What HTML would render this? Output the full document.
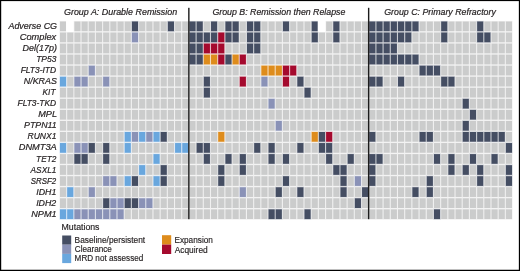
<!DOCTYPE html>
<html><head><meta charset="utf-8"><style>
html,body{margin:0;padding:0;background:#fff;width:520px;height:271px;overflow:hidden}
svg{display:block;will-change:transform}
.g{fill:#cbcccc;stroke:#cbcccc;stroke-opacity:0.28;stroke-width:1.2px}.d{fill:#454e63;stroke:#454e63;stroke-opacity:0.28;stroke-width:1.2px}.c{fill:#8a92b7;stroke:#8a92b7;stroke-opacity:0.28;stroke-width:1.2px}.m{fill:#69a7de;stroke:#69a7de;stroke-opacity:0.28;stroke-width:1.2px}.o{fill:#de8c1c;stroke:#de8c1c;stroke-opacity:0.28;stroke-width:1.2px}.r{fill:#a50a2e;stroke:#a50a2e;stroke-opacity:0.28;stroke-width:1.2px}
.lab{font-family:"Liberation Sans",sans-serif;font-style:italic;font-size:8.8px;fill:#231f20;stroke:#231f20;stroke-width:0.2px}
.hdr{font-family:"Liberation Sans",sans-serif;font-style:italic;font-size:8.8px;fill:#231f20;stroke:#231f20;stroke-width:0.2px}
.leg{font-family:"Liberation Sans",sans-serif;font-size:8.3px;fill:#231f20;stroke:#231f20;stroke-width:0.16px}
</style></head><body>
<svg width="520" height="271" viewBox="0 0 520 271">
<rect x="0" y="0" width="520" height="271" fill="#fff"/>
<rect x="60.0" y="21.5" width="452.00" height="197.55" fill="#ffffff"/>
<rect class="g" x="60.00" y="21.50" width="6.1" height="9.7"/><rect x="66.10" y="20.15" width="8.28" height="12.40" fill="#fff"/><rect class="g" x="74.38" y="21.50" width="6.1" height="9.7"/><rect class="g" x="81.58" y="21.50" width="6.1" height="9.7"/><rect class="g" x="88.77" y="21.50" width="6.1" height="9.7"/><rect class="g" x="95.96" y="21.50" width="6.1" height="9.7"/><rect class="g" x="103.15" y="21.50" width="6.1" height="9.7"/><rect class="g" x="110.34" y="21.50" width="6.1" height="9.7"/><rect class="g" x="117.54" y="21.50" width="6.1" height="9.7"/><rect class="g" x="124.73" y="21.50" width="6.1" height="9.7"/><rect class="d" x="131.92" y="21.50" width="6.1" height="9.7"/><rect class="g" x="139.11" y="21.50" width="6.1" height="9.7"/><rect class="g" x="146.30" y="21.50" width="6.1" height="9.7"/><rect class="g" x="153.50" y="21.50" width="6.1" height="9.7"/><rect class="g" x="160.69" y="21.50" width="6.1" height="9.7"/><rect class="d" x="167.88" y="21.50" width="6.1" height="9.7"/><rect class="g" x="175.07" y="21.50" width="6.1" height="9.7"/><rect class="g" x="182.26" y="21.50" width="6.1" height="9.7"/><rect class="d" x="189.46" y="21.50" width="6.1" height="9.7"/><rect class="d" x="196.65" y="21.50" width="6.1" height="9.7"/><rect class="g" x="203.84" y="21.50" width="6.1" height="9.7"/><rect class="d" x="211.03" y="21.50" width="6.1" height="9.7"/><rect class="g" x="218.22" y="21.50" width="6.1" height="9.7"/><rect class="d" x="225.42" y="21.50" width="6.1" height="9.7"/><rect class="d" x="232.61" y="21.50" width="6.1" height="9.7"/><rect class="g" x="239.80" y="21.50" width="6.1" height="9.7"/><rect class="d" x="246.99" y="21.50" width="6.1" height="9.7"/><rect class="d" x="254.18" y="21.50" width="6.1" height="9.7"/><rect class="g" x="261.38" y="21.50" width="6.1" height="9.7"/><rect class="g" x="268.57" y="21.50" width="6.1" height="9.7"/><rect class="g" x="275.76" y="21.50" width="6.1" height="9.7"/><rect class="d" x="282.95" y="21.50" width="6.1" height="9.7"/><rect class="g" x="290.14" y="21.50" width="6.1" height="9.7"/><rect class="g" x="297.34" y="21.50" width="6.1" height="9.7"/><rect class="g" x="304.53" y="21.50" width="6.1" height="9.7"/><rect class="d" x="311.72" y="21.50" width="6.1" height="9.7"/><rect x="317.82" y="20.15" width="8.28" height="12.40" fill="#fff"/><rect class="g" x="326.10" y="21.50" width="6.1" height="9.7"/><rect class="d" x="333.30" y="21.50" width="6.1" height="9.7"/><rect class="g" x="340.49" y="21.50" width="6.1" height="9.7"/><rect class="g" x="347.68" y="21.50" width="6.1" height="9.7"/><rect class="g" x="354.87" y="21.50" width="6.1" height="9.7"/><rect class="g" x="362.06" y="21.50" width="6.1" height="9.7"/><rect class="d" x="369.26" y="21.50" width="6.1" height="9.7"/><rect class="d" x="376.45" y="21.50" width="6.1" height="9.7"/><rect class="d" x="383.64" y="21.50" width="6.1" height="9.7"/><rect class="d" x="390.83" y="21.50" width="6.1" height="9.7"/><rect class="d" x="398.02" y="21.50" width="6.1" height="9.7"/><rect class="d" x="405.22" y="21.50" width="6.1" height="9.7"/><rect class="d" x="412.41" y="21.50" width="6.1" height="9.7"/><rect class="g" x="419.60" y="21.50" width="6.1" height="9.7"/><rect class="g" x="426.79" y="21.50" width="6.1" height="9.7"/><rect class="g" x="433.98" y="21.50" width="6.1" height="9.7"/><rect class="d" x="441.18" y="21.50" width="6.1" height="9.7"/><rect class="g" x="448.37" y="21.50" width="6.1" height="9.7"/><rect class="g" x="455.56" y="21.50" width="6.1" height="9.7"/><rect class="g" x="462.75" y="21.50" width="6.1" height="9.7"/><rect class="g" x="469.94" y="21.50" width="6.1" height="9.7"/><rect class="d" x="477.14" y="21.50" width="6.1" height="9.7"/><rect class="g" x="484.33" y="21.50" width="6.1" height="9.7"/><rect class="g" x="491.52" y="21.50" width="6.1" height="9.7"/><rect class="g" x="498.71" y="21.50" width="6.1" height="9.7"/><rect class="g" x="505.90" y="21.50" width="6.1" height="9.7"/><rect class="g" x="60.00" y="32.55" width="6.1" height="9.7"/><rect class="g" x="67.19" y="32.55" width="6.1" height="9.7"/><rect class="g" x="74.38" y="32.55" width="6.1" height="9.7"/><rect class="g" x="81.58" y="32.55" width="6.1" height="9.7"/><rect class="g" x="88.77" y="32.55" width="6.1" height="9.7"/><rect class="g" x="95.96" y="32.55" width="6.1" height="9.7"/><rect class="g" x="103.15" y="32.55" width="6.1" height="9.7"/><rect class="g" x="110.34" y="32.55" width="6.1" height="9.7"/><rect class="g" x="117.54" y="32.55" width="6.1" height="9.7"/><rect class="g" x="124.73" y="32.55" width="6.1" height="9.7"/><rect class="c" x="131.92" y="32.55" width="6.1" height="9.7"/><rect class="g" x="139.11" y="32.55" width="6.1" height="9.7"/><rect class="g" x="146.30" y="32.55" width="6.1" height="9.7"/><rect class="g" x="153.50" y="32.55" width="6.1" height="9.7"/><rect class="g" x="160.69" y="32.55" width="6.1" height="9.7"/><rect class="g" x="167.88" y="32.55" width="6.1" height="9.7"/><rect class="g" x="175.07" y="32.55" width="6.1" height="9.7"/><rect class="g" x="182.26" y="32.55" width="6.1" height="9.7"/><rect class="d" x="189.46" y="32.55" width="6.1" height="9.7"/><rect class="d" x="196.65" y="32.55" width="6.1" height="9.7"/><rect class="d" x="203.84" y="32.55" width="6.1" height="9.7"/><rect class="d" x="211.03" y="32.55" width="6.1" height="9.7"/><rect class="r" x="218.22" y="32.55" width="6.1" height="9.7"/><rect class="d" x="225.42" y="32.55" width="6.1" height="9.7"/><rect class="d" x="232.61" y="32.55" width="6.1" height="9.7"/><rect class="g" x="239.80" y="32.55" width="6.1" height="9.7"/><rect class="d" x="246.99" y="32.55" width="6.1" height="9.7"/><rect class="d" x="254.18" y="32.55" width="6.1" height="9.7"/><rect class="g" x="261.38" y="32.55" width="6.1" height="9.7"/><rect class="g" x="268.57" y="32.55" width="6.1" height="9.7"/><rect class="g" x="275.76" y="32.55" width="6.1" height="9.7"/><rect class="g" x="282.95" y="32.55" width="6.1" height="9.7"/><rect class="g" x="290.14" y="32.55" width="6.1" height="9.7"/><rect class="g" x="297.34" y="32.55" width="6.1" height="9.7"/><rect class="g" x="304.53" y="32.55" width="6.1" height="9.7"/><rect class="d" x="311.72" y="32.55" width="6.1" height="9.7"/><rect class="g" x="318.91" y="32.55" width="6.1" height="9.7"/><rect class="g" x="326.10" y="32.55" width="6.1" height="9.7"/><rect class="d" x="333.30" y="32.55" width="6.1" height="9.7"/><rect class="g" x="340.49" y="32.55" width="6.1" height="9.7"/><rect class="g" x="347.68" y="32.55" width="6.1" height="9.7"/><rect class="g" x="354.87" y="32.55" width="6.1" height="9.7"/><rect class="g" x="362.06" y="32.55" width="6.1" height="9.7"/><rect class="d" x="369.26" y="32.55" width="6.1" height="9.7"/><rect class="d" x="376.45" y="32.55" width="6.1" height="9.7"/><rect class="d" x="383.64" y="32.55" width="6.1" height="9.7"/><rect class="d" x="390.83" y="32.55" width="6.1" height="9.7"/><rect class="d" x="398.02" y="32.55" width="6.1" height="9.7"/><rect class="d" x="405.22" y="32.55" width="6.1" height="9.7"/><rect class="g" x="412.41" y="32.55" width="6.1" height="9.7"/><rect class="g" x="419.60" y="32.55" width="6.1" height="9.7"/><rect class="g" x="426.79" y="32.55" width="6.1" height="9.7"/><rect class="g" x="433.98" y="32.55" width="6.1" height="9.7"/><rect class="d" x="441.18" y="32.55" width="6.1" height="9.7"/><rect class="g" x="448.37" y="32.55" width="6.1" height="9.7"/><rect class="g" x="455.56" y="32.55" width="6.1" height="9.7"/><rect class="g" x="462.75" y="32.55" width="6.1" height="9.7"/><rect class="g" x="469.94" y="32.55" width="6.1" height="9.7"/><rect class="d" x="477.14" y="32.55" width="6.1" height="9.7"/><rect class="d" x="484.33" y="32.55" width="6.1" height="9.7"/><rect class="g" x="491.52" y="32.55" width="6.1" height="9.7"/><rect class="g" x="498.71" y="32.55" width="6.1" height="9.7"/><rect class="g" x="505.90" y="32.55" width="6.1" height="9.7"/><rect class="g" x="60.00" y="43.60" width="6.1" height="9.7"/><rect class="g" x="67.19" y="43.60" width="6.1" height="9.7"/><rect class="g" x="74.38" y="43.60" width="6.1" height="9.7"/><rect class="g" x="81.58" y="43.60" width="6.1" height="9.7"/><rect class="g" x="88.77" y="43.60" width="6.1" height="9.7"/><rect class="g" x="95.96" y="43.60" width="6.1" height="9.7"/><rect class="g" x="103.15" y="43.60" width="6.1" height="9.7"/><rect class="g" x="110.34" y="43.60" width="6.1" height="9.7"/><rect class="g" x="117.54" y="43.60" width="6.1" height="9.7"/><rect class="g" x="124.73" y="43.60" width="6.1" height="9.7"/><rect class="g" x="131.92" y="43.60" width="6.1" height="9.7"/><rect class="g" x="139.11" y="43.60" width="6.1" height="9.7"/><rect class="g" x="146.30" y="43.60" width="6.1" height="9.7"/><rect class="g" x="153.50" y="43.60" width="6.1" height="9.7"/><rect class="g" x="160.69" y="43.60" width="6.1" height="9.7"/><rect class="g" x="167.88" y="43.60" width="6.1" height="9.7"/><rect class="g" x="175.07" y="43.60" width="6.1" height="9.7"/><rect class="g" x="182.26" y="43.60" width="6.1" height="9.7"/><rect class="d" x="189.46" y="43.60" width="6.1" height="9.7"/><rect class="d" x="196.65" y="43.60" width="6.1" height="9.7"/><rect class="r" x="203.84" y="43.60" width="6.1" height="9.7"/><rect class="r" x="211.03" y="43.60" width="6.1" height="9.7"/><rect class="r" x="218.22" y="43.60" width="6.1" height="9.7"/><rect class="g" x="225.42" y="43.60" width="6.1" height="9.7"/><rect class="g" x="232.61" y="43.60" width="6.1" height="9.7"/><rect class="g" x="239.80" y="43.60" width="6.1" height="9.7"/><rect class="d" x="246.99" y="43.60" width="6.1" height="9.7"/><rect class="d" x="254.18" y="43.60" width="6.1" height="9.7"/><rect class="g" x="261.38" y="43.60" width="6.1" height="9.7"/><rect class="g" x="268.57" y="43.60" width="6.1" height="9.7"/><rect class="g" x="275.76" y="43.60" width="6.1" height="9.7"/><rect class="g" x="282.95" y="43.60" width="6.1" height="9.7"/><rect class="g" x="290.14" y="43.60" width="6.1" height="9.7"/><rect class="g" x="297.34" y="43.60" width="6.1" height="9.7"/><rect class="g" x="304.53" y="43.60" width="6.1" height="9.7"/><rect class="g" x="311.72" y="43.60" width="6.1" height="9.7"/><rect class="g" x="318.91" y="43.60" width="6.1" height="9.7"/><rect class="g" x="326.10" y="43.60" width="6.1" height="9.7"/><rect class="g" x="333.30" y="43.60" width="6.1" height="9.7"/><rect class="g" x="340.49" y="43.60" width="6.1" height="9.7"/><rect class="g" x="347.68" y="43.60" width="6.1" height="9.7"/><rect class="g" x="354.87" y="43.60" width="6.1" height="9.7"/><rect class="g" x="362.06" y="43.60" width="6.1" height="9.7"/><rect class="d" x="369.26" y="43.60" width="6.1" height="9.7"/><rect class="d" x="376.45" y="43.60" width="6.1" height="9.7"/><rect class="d" x="383.64" y="43.60" width="6.1" height="9.7"/><rect class="d" x="390.83" y="43.60" width="6.1" height="9.7"/><rect class="g" x="398.02" y="43.60" width="6.1" height="9.7"/><rect class="g" x="405.22" y="43.60" width="6.1" height="9.7"/><rect class="g" x="412.41" y="43.60" width="6.1" height="9.7"/><rect class="g" x="419.60" y="43.60" width="6.1" height="9.7"/><rect class="g" x="426.79" y="43.60" width="6.1" height="9.7"/><rect class="g" x="433.98" y="43.60" width="6.1" height="9.7"/><rect class="g" x="441.18" y="43.60" width="6.1" height="9.7"/><rect class="g" x="448.37" y="43.60" width="6.1" height="9.7"/><rect class="g" x="455.56" y="43.60" width="6.1" height="9.7"/><rect class="g" x="462.75" y="43.60" width="6.1" height="9.7"/><rect class="g" x="469.94" y="43.60" width="6.1" height="9.7"/><rect class="g" x="477.14" y="43.60" width="6.1" height="9.7"/><rect class="g" x="484.33" y="43.60" width="6.1" height="9.7"/><rect class="g" x="491.52" y="43.60" width="6.1" height="9.7"/><rect class="g" x="498.71" y="43.60" width="6.1" height="9.7"/><rect class="g" x="505.90" y="43.60" width="6.1" height="9.7"/><rect class="g" x="60.00" y="54.65" width="6.1" height="9.7"/><rect class="g" x="67.19" y="54.65" width="6.1" height="9.7"/><rect class="g" x="74.38" y="54.65" width="6.1" height="9.7"/><rect class="g" x="81.58" y="54.65" width="6.1" height="9.7"/><rect class="g" x="88.77" y="54.65" width="6.1" height="9.7"/><rect class="g" x="95.96" y="54.65" width="6.1" height="9.7"/><rect class="g" x="103.15" y="54.65" width="6.1" height="9.7"/><rect class="g" x="110.34" y="54.65" width="6.1" height="9.7"/><rect class="g" x="117.54" y="54.65" width="6.1" height="9.7"/><rect class="g" x="124.73" y="54.65" width="6.1" height="9.7"/><rect class="g" x="131.92" y="54.65" width="6.1" height="9.7"/><rect class="g" x="139.11" y="54.65" width="6.1" height="9.7"/><rect class="g" x="146.30" y="54.65" width="6.1" height="9.7"/><rect class="g" x="153.50" y="54.65" width="6.1" height="9.7"/><rect class="g" x="160.69" y="54.65" width="6.1" height="9.7"/><rect class="g" x="167.88" y="54.65" width="6.1" height="9.7"/><rect class="g" x="175.07" y="54.65" width="6.1" height="9.7"/><rect class="g" x="182.26" y="54.65" width="6.1" height="9.7"/><rect class="d" x="189.46" y="54.65" width="6.1" height="9.7"/><rect class="d" x="196.65" y="54.65" width="6.1" height="9.7"/><rect class="o" x="203.84" y="54.65" width="6.1" height="9.7"/><rect class="o" x="211.03" y="54.65" width="6.1" height="9.7"/><rect class="r" x="218.22" y="54.65" width="6.1" height="9.7"/><rect class="d" x="225.42" y="54.65" width="6.1" height="9.7"/><rect class="o" x="232.61" y="54.65" width="6.1" height="9.7"/><rect class="r" x="239.80" y="54.65" width="6.1" height="9.7"/><rect class="g" x="246.99" y="54.65" width="6.1" height="9.7"/><rect class="g" x="254.18" y="54.65" width="6.1" height="9.7"/><rect class="g" x="261.38" y="54.65" width="6.1" height="9.7"/><rect class="g" x="268.57" y="54.65" width="6.1" height="9.7"/><rect class="g" x="275.76" y="54.65" width="6.1" height="9.7"/><rect class="g" x="282.95" y="54.65" width="6.1" height="9.7"/><rect class="g" x="290.14" y="54.65" width="6.1" height="9.7"/><rect class="g" x="297.34" y="54.65" width="6.1" height="9.7"/><rect class="g" x="304.53" y="54.65" width="6.1" height="9.7"/><rect class="g" x="311.72" y="54.65" width="6.1" height="9.7"/><rect class="g" x="318.91" y="54.65" width="6.1" height="9.7"/><rect class="g" x="326.10" y="54.65" width="6.1" height="9.7"/><rect class="g" x="333.30" y="54.65" width="6.1" height="9.7"/><rect class="g" x="340.49" y="54.65" width="6.1" height="9.7"/><rect class="g" x="347.68" y="54.65" width="6.1" height="9.7"/><rect class="g" x="354.87" y="54.65" width="6.1" height="9.7"/><rect class="g" x="362.06" y="54.65" width="6.1" height="9.7"/><rect class="d" x="369.26" y="54.65" width="6.1" height="9.7"/><rect class="d" x="376.45" y="54.65" width="6.1" height="9.7"/><rect class="d" x="383.64" y="54.65" width="6.1" height="9.7"/><rect class="d" x="390.83" y="54.65" width="6.1" height="9.7"/><rect class="d" x="398.02" y="54.65" width="6.1" height="9.7"/><rect class="d" x="405.22" y="54.65" width="6.1" height="9.7"/><rect class="d" x="412.41" y="54.65" width="6.1" height="9.7"/><rect class="g" x="419.60" y="54.65" width="6.1" height="9.7"/><rect class="g" x="426.79" y="54.65" width="6.1" height="9.7"/><rect class="g" x="433.98" y="54.65" width="6.1" height="9.7"/><rect class="g" x="441.18" y="54.65" width="6.1" height="9.7"/><rect class="g" x="448.37" y="54.65" width="6.1" height="9.7"/><rect class="g" x="455.56" y="54.65" width="6.1" height="9.7"/><rect class="g" x="462.75" y="54.65" width="6.1" height="9.7"/><rect class="g" x="469.94" y="54.65" width="6.1" height="9.7"/><rect class="g" x="477.14" y="54.65" width="6.1" height="9.7"/><rect class="g" x="484.33" y="54.65" width="6.1" height="9.7"/><rect class="g" x="491.52" y="54.65" width="6.1" height="9.7"/><rect class="g" x="498.71" y="54.65" width="6.1" height="9.7"/><rect class="g" x="505.90" y="54.65" width="6.1" height="9.7"/><rect class="g" x="60.00" y="65.70" width="6.1" height="9.7"/><rect class="g" x="67.19" y="65.70" width="6.1" height="9.7"/><rect class="g" x="74.38" y="65.70" width="6.1" height="9.7"/><rect class="g" x="81.58" y="65.70" width="6.1" height="9.7"/><rect class="c" x="88.77" y="65.70" width="6.1" height="9.7"/><rect class="g" x="95.96" y="65.70" width="6.1" height="9.7"/><rect class="g" x="103.15" y="65.70" width="6.1" height="9.7"/><rect class="g" x="110.34" y="65.70" width="6.1" height="9.7"/><rect class="g" x="117.54" y="65.70" width="6.1" height="9.7"/><rect class="g" x="124.73" y="65.70" width="6.1" height="9.7"/><rect class="g" x="131.92" y="65.70" width="6.1" height="9.7"/><rect class="g" x="139.11" y="65.70" width="6.1" height="9.7"/><rect class="g" x="146.30" y="65.70" width="6.1" height="9.7"/><rect class="g" x="153.50" y="65.70" width="6.1" height="9.7"/><rect class="g" x="160.69" y="65.70" width="6.1" height="9.7"/><rect class="g" x="167.88" y="65.70" width="6.1" height="9.7"/><rect class="g" x="175.07" y="65.70" width="6.1" height="9.7"/><rect class="g" x="182.26" y="65.70" width="6.1" height="9.7"/><rect class="g" x="189.46" y="65.70" width="6.1" height="9.7"/><rect class="g" x="196.65" y="65.70" width="6.1" height="9.7"/><rect class="g" x="203.84" y="65.70" width="6.1" height="9.7"/><rect class="g" x="211.03" y="65.70" width="6.1" height="9.7"/><rect class="g" x="218.22" y="65.70" width="6.1" height="9.7"/><rect class="g" x="225.42" y="65.70" width="6.1" height="9.7"/><rect class="g" x="232.61" y="65.70" width="6.1" height="9.7"/><rect class="g" x="239.80" y="65.70" width="6.1" height="9.7"/><rect class="g" x="246.99" y="65.70" width="6.1" height="9.7"/><rect class="g" x="254.18" y="65.70" width="6.1" height="9.7"/><rect class="o" x="261.38" y="65.70" width="6.1" height="9.7"/><rect class="o" x="268.57" y="65.70" width="6.1" height="9.7"/><rect class="o" x="275.76" y="65.70" width="6.1" height="9.7"/><rect class="r" x="282.95" y="65.70" width="6.1" height="9.7"/><rect class="r" x="290.14" y="65.70" width="6.1" height="9.7"/><rect class="g" x="297.34" y="65.70" width="6.1" height="9.7"/><rect class="g" x="304.53" y="65.70" width="6.1" height="9.7"/><rect class="g" x="311.72" y="65.70" width="6.1" height="9.7"/><rect class="g" x="318.91" y="65.70" width="6.1" height="9.7"/><rect class="g" x="326.10" y="65.70" width="6.1" height="9.7"/><rect class="g" x="333.30" y="65.70" width="6.1" height="9.7"/><rect class="g" x="340.49" y="65.70" width="6.1" height="9.7"/><rect class="g" x="347.68" y="65.70" width="6.1" height="9.7"/><rect class="g" x="354.87" y="65.70" width="6.1" height="9.7"/><rect class="g" x="362.06" y="65.70" width="6.1" height="9.7"/><rect class="g" x="369.26" y="65.70" width="6.1" height="9.7"/><rect class="g" x="376.45" y="65.70" width="6.1" height="9.7"/><rect class="g" x="383.64" y="65.70" width="6.1" height="9.7"/><rect class="g" x="390.83" y="65.70" width="6.1" height="9.7"/><rect class="g" x="398.02" y="65.70" width="6.1" height="9.7"/><rect class="g" x="405.22" y="65.70" width="6.1" height="9.7"/><rect class="g" x="412.41" y="65.70" width="6.1" height="9.7"/><rect class="d" x="419.60" y="65.70" width="6.1" height="9.7"/><rect class="d" x="426.79" y="65.70" width="6.1" height="9.7"/><rect class="d" x="433.98" y="65.70" width="6.1" height="9.7"/><rect class="g" x="441.18" y="65.70" width="6.1" height="9.7"/><rect class="g" x="448.37" y="65.70" width="6.1" height="9.7"/><rect class="g" x="455.56" y="65.70" width="6.1" height="9.7"/><rect class="g" x="462.75" y="65.70" width="6.1" height="9.7"/><rect class="g" x="469.94" y="65.70" width="6.1" height="9.7"/><rect class="g" x="477.14" y="65.70" width="6.1" height="9.7"/><rect class="g" x="484.33" y="65.70" width="6.1" height="9.7"/><rect class="g" x="491.52" y="65.70" width="6.1" height="9.7"/><rect class="g" x="498.71" y="65.70" width="6.1" height="9.7"/><rect class="g" x="505.90" y="65.70" width="6.1" height="9.7"/><rect class="m" x="60.00" y="76.75" width="6.1" height="9.7"/><rect class="g" x="67.19" y="76.75" width="6.1" height="9.7"/><rect class="c" x="74.38" y="76.75" width="6.1" height="9.7"/><rect class="c" x="81.58" y="76.75" width="6.1" height="9.7"/><rect class="g" x="88.77" y="76.75" width="6.1" height="9.7"/><rect class="g" x="95.96" y="76.75" width="6.1" height="9.7"/><rect class="c" x="103.15" y="76.75" width="6.1" height="9.7"/><rect class="g" x="110.34" y="76.75" width="6.1" height="9.7"/><rect class="g" x="117.54" y="76.75" width="6.1" height="9.7"/><rect class="g" x="124.73" y="76.75" width="6.1" height="9.7"/><rect class="g" x="131.92" y="76.75" width="6.1" height="9.7"/><rect class="g" x="139.11" y="76.75" width="6.1" height="9.7"/><rect class="g" x="146.30" y="76.75" width="6.1" height="9.7"/><rect class="g" x="153.50" y="76.75" width="6.1" height="9.7"/><rect class="g" x="160.69" y="76.75" width="6.1" height="9.7"/><rect class="g" x="167.88" y="76.75" width="6.1" height="9.7"/><rect class="g" x="175.07" y="76.75" width="6.1" height="9.7"/><rect class="g" x="182.26" y="76.75" width="6.1" height="9.7"/><rect class="g" x="189.46" y="76.75" width="6.1" height="9.7"/><rect class="g" x="196.65" y="76.75" width="6.1" height="9.7"/><rect class="d" x="203.84" y="76.75" width="6.1" height="9.7"/><rect class="g" x="211.03" y="76.75" width="6.1" height="9.7"/><rect class="g" x="218.22" y="76.75" width="6.1" height="9.7"/><rect class="g" x="225.42" y="76.75" width="6.1" height="9.7"/><rect class="g" x="232.61" y="76.75" width="6.1" height="9.7"/><rect class="r" x="239.80" y="76.75" width="6.1" height="9.7"/><rect class="g" x="246.99" y="76.75" width="6.1" height="9.7"/><rect class="g" x="254.18" y="76.75" width="6.1" height="9.7"/><rect class="c" x="261.38" y="76.75" width="6.1" height="9.7"/><rect class="g" x="268.57" y="76.75" width="6.1" height="9.7"/><rect class="g" x="275.76" y="76.75" width="6.1" height="9.7"/><rect class="r" x="282.95" y="76.75" width="6.1" height="9.7"/><rect class="g" x="290.14" y="76.75" width="6.1" height="9.7"/><rect class="d" x="297.34" y="76.75" width="6.1" height="9.7"/><rect class="g" x="304.53" y="76.75" width="6.1" height="9.7"/><rect class="g" x="311.72" y="76.75" width="6.1" height="9.7"/><rect class="g" x="318.91" y="76.75" width="6.1" height="9.7"/><rect class="g" x="326.10" y="76.75" width="6.1" height="9.7"/><rect class="g" x="333.30" y="76.75" width="6.1" height="9.7"/><rect class="g" x="340.49" y="76.75" width="6.1" height="9.7"/><rect class="g" x="347.68" y="76.75" width="6.1" height="9.7"/><rect class="g" x="354.87" y="76.75" width="6.1" height="9.7"/><rect class="g" x="362.06" y="76.75" width="6.1" height="9.7"/><rect class="d" x="369.26" y="76.75" width="6.1" height="9.7"/><rect class="d" x="376.45" y="76.75" width="6.1" height="9.7"/><rect class="g" x="383.64" y="76.75" width="6.1" height="9.7"/><rect class="g" x="390.83" y="76.75" width="6.1" height="9.7"/><rect class="d" x="398.02" y="76.75" width="6.1" height="9.7"/><rect class="g" x="405.22" y="76.75" width="6.1" height="9.7"/><rect class="g" x="412.41" y="76.75" width="6.1" height="9.7"/><rect class="g" x="419.60" y="76.75" width="6.1" height="9.7"/><rect class="g" x="426.79" y="76.75" width="6.1" height="9.7"/><rect class="g" x="433.98" y="76.75" width="6.1" height="9.7"/><rect class="d" x="441.18" y="76.75" width="6.1" height="9.7"/><rect class="d" x="448.37" y="76.75" width="6.1" height="9.7"/><rect class="g" x="455.56" y="76.75" width="6.1" height="9.7"/><rect class="g" x="462.75" y="76.75" width="6.1" height="9.7"/><rect class="g" x="469.94" y="76.75" width="6.1" height="9.7"/><rect class="g" x="477.14" y="76.75" width="6.1" height="9.7"/><rect class="g" x="484.33" y="76.75" width="6.1" height="9.7"/><rect class="g" x="491.52" y="76.75" width="6.1" height="9.7"/><rect class="g" x="498.71" y="76.75" width="6.1" height="9.7"/><rect class="g" x="505.90" y="76.75" width="6.1" height="9.7"/><rect class="g" x="60.00" y="87.80" width="6.1" height="9.7"/><rect class="g" x="67.19" y="87.80" width="6.1" height="9.7"/><rect class="g" x="74.38" y="87.80" width="6.1" height="9.7"/><rect class="g" x="81.58" y="87.80" width="6.1" height="9.7"/><rect class="g" x="88.77" y="87.80" width="6.1" height="9.7"/><rect class="g" x="95.96" y="87.80" width="6.1" height="9.7"/><rect class="g" x="103.15" y="87.80" width="6.1" height="9.7"/><rect class="g" x="110.34" y="87.80" width="6.1" height="9.7"/><rect class="g" x="117.54" y="87.80" width="6.1" height="9.7"/><rect class="g" x="124.73" y="87.80" width="6.1" height="9.7"/><rect class="g" x="131.92" y="87.80" width="6.1" height="9.7"/><rect class="g" x="139.11" y="87.80" width="6.1" height="9.7"/><rect class="g" x="146.30" y="87.80" width="6.1" height="9.7"/><rect class="g" x="153.50" y="87.80" width="6.1" height="9.7"/><rect class="g" x="160.69" y="87.80" width="6.1" height="9.7"/><rect class="g" x="167.88" y="87.80" width="6.1" height="9.7"/><rect class="g" x="175.07" y="87.80" width="6.1" height="9.7"/><rect class="g" x="182.26" y="87.80" width="6.1" height="9.7"/><rect class="g" x="189.46" y="87.80" width="6.1" height="9.7"/><rect class="g" x="196.65" y="87.80" width="6.1" height="9.7"/><rect class="d" x="203.84" y="87.80" width="6.1" height="9.7"/><rect class="g" x="211.03" y="87.80" width="6.1" height="9.7"/><rect class="g" x="218.22" y="87.80" width="6.1" height="9.7"/><rect class="g" x="225.42" y="87.80" width="6.1" height="9.7"/><rect class="g" x="232.61" y="87.80" width="6.1" height="9.7"/><rect class="g" x="239.80" y="87.80" width="6.1" height="9.7"/><rect class="g" x="246.99" y="87.80" width="6.1" height="9.7"/><rect class="g" x="254.18" y="87.80" width="6.1" height="9.7"/><rect class="g" x="261.38" y="87.80" width="6.1" height="9.7"/><rect class="g" x="268.57" y="87.80" width="6.1" height="9.7"/><rect class="g" x="275.76" y="87.80" width="6.1" height="9.7"/><rect class="g" x="282.95" y="87.80" width="6.1" height="9.7"/><rect class="g" x="290.14" y="87.80" width="6.1" height="9.7"/><rect class="g" x="297.34" y="87.80" width="6.1" height="9.7"/><rect class="d" x="304.53" y="87.80" width="6.1" height="9.7"/><rect class="g" x="311.72" y="87.80" width="6.1" height="9.7"/><rect class="g" x="318.91" y="87.80" width="6.1" height="9.7"/><rect class="g" x="326.10" y="87.80" width="6.1" height="9.7"/><rect class="g" x="333.30" y="87.80" width="6.1" height="9.7"/><rect class="g" x="340.49" y="87.80" width="6.1" height="9.7"/><rect class="g" x="347.68" y="87.80" width="6.1" height="9.7"/><rect class="g" x="354.87" y="87.80" width="6.1" height="9.7"/><rect class="g" x="362.06" y="87.80" width="6.1" height="9.7"/><rect class="g" x="369.26" y="87.80" width="6.1" height="9.7"/><rect class="g" x="376.45" y="87.80" width="6.1" height="9.7"/><rect class="g" x="383.64" y="87.80" width="6.1" height="9.7"/><rect class="g" x="390.83" y="87.80" width="6.1" height="9.7"/><rect class="g" x="398.02" y="87.80" width="6.1" height="9.7"/><rect class="g" x="405.22" y="87.80" width="6.1" height="9.7"/><rect class="g" x="412.41" y="87.80" width="6.1" height="9.7"/><rect class="g" x="419.60" y="87.80" width="6.1" height="9.7"/><rect class="g" x="426.79" y="87.80" width="6.1" height="9.7"/><rect class="g" x="433.98" y="87.80" width="6.1" height="9.7"/><rect class="g" x="441.18" y="87.80" width="6.1" height="9.7"/><rect class="g" x="448.37" y="87.80" width="6.1" height="9.7"/><rect class="g" x="455.56" y="87.80" width="6.1" height="9.7"/><rect class="g" x="462.75" y="87.80" width="6.1" height="9.7"/><rect class="g" x="469.94" y="87.80" width="6.1" height="9.7"/><rect class="g" x="477.14" y="87.80" width="6.1" height="9.7"/><rect class="g" x="484.33" y="87.80" width="6.1" height="9.7"/><rect class="g" x="491.52" y="87.80" width="6.1" height="9.7"/><rect class="g" x="498.71" y="87.80" width="6.1" height="9.7"/><rect class="g" x="505.90" y="87.80" width="6.1" height="9.7"/><rect class="g" x="60.00" y="98.85" width="6.1" height="9.7"/><rect class="g" x="67.19" y="98.85" width="6.1" height="9.7"/><rect class="g" x="74.38" y="98.85" width="6.1" height="9.7"/><rect class="g" x="81.58" y="98.85" width="6.1" height="9.7"/><rect class="g" x="88.77" y="98.85" width="6.1" height="9.7"/><rect class="g" x="95.96" y="98.85" width="6.1" height="9.7"/><rect class="g" x="103.15" y="98.85" width="6.1" height="9.7"/><rect class="g" x="110.34" y="98.85" width="6.1" height="9.7"/><rect class="g" x="117.54" y="98.85" width="6.1" height="9.7"/><rect class="g" x="124.73" y="98.85" width="6.1" height="9.7"/><rect class="g" x="131.92" y="98.85" width="6.1" height="9.7"/><rect class="g" x="139.11" y="98.85" width="6.1" height="9.7"/><rect class="g" x="146.30" y="98.85" width="6.1" height="9.7"/><rect class="g" x="153.50" y="98.85" width="6.1" height="9.7"/><rect class="g" x="160.69" y="98.85" width="6.1" height="9.7"/><rect class="g" x="167.88" y="98.85" width="6.1" height="9.7"/><rect class="g" x="175.07" y="98.85" width="6.1" height="9.7"/><rect class="g" x="182.26" y="98.85" width="6.1" height="9.7"/><rect class="g" x="189.46" y="98.85" width="6.1" height="9.7"/><rect class="g" x="196.65" y="98.85" width="6.1" height="9.7"/><rect class="g" x="203.84" y="98.85" width="6.1" height="9.7"/><rect class="g" x="211.03" y="98.85" width="6.1" height="9.7"/><rect class="g" x="218.22" y="98.85" width="6.1" height="9.7"/><rect class="g" x="225.42" y="98.85" width="6.1" height="9.7"/><rect class="g" x="232.61" y="98.85" width="6.1" height="9.7"/><rect class="g" x="239.80" y="98.85" width="6.1" height="9.7"/><rect class="g" x="246.99" y="98.85" width="6.1" height="9.7"/><rect class="g" x="254.18" y="98.85" width="6.1" height="9.7"/><rect class="g" x="261.38" y="98.85" width="6.1" height="9.7"/><rect class="c" x="268.57" y="98.85" width="6.1" height="9.7"/><rect class="g" x="275.76" y="98.85" width="6.1" height="9.7"/><rect class="g" x="282.95" y="98.85" width="6.1" height="9.7"/><rect class="g" x="290.14" y="98.85" width="6.1" height="9.7"/><rect class="g" x="297.34" y="98.85" width="6.1" height="9.7"/><rect class="g" x="304.53" y="98.85" width="6.1" height="9.7"/><rect class="g" x="311.72" y="98.85" width="6.1" height="9.7"/><rect class="g" x="318.91" y="98.85" width="6.1" height="9.7"/><rect class="g" x="326.10" y="98.85" width="6.1" height="9.7"/><rect class="g" x="333.30" y="98.85" width="6.1" height="9.7"/><rect class="g" x="340.49" y="98.85" width="6.1" height="9.7"/><rect class="g" x="347.68" y="98.85" width="6.1" height="9.7"/><rect class="g" x="354.87" y="98.85" width="6.1" height="9.7"/><rect class="g" x="362.06" y="98.85" width="6.1" height="9.7"/><rect class="g" x="369.26" y="98.85" width="6.1" height="9.7"/><rect class="g" x="376.45" y="98.85" width="6.1" height="9.7"/><rect class="g" x="383.64" y="98.85" width="6.1" height="9.7"/><rect class="g" x="390.83" y="98.85" width="6.1" height="9.7"/><rect class="g" x="398.02" y="98.85" width="6.1" height="9.7"/><rect class="g" x="405.22" y="98.85" width="6.1" height="9.7"/><rect class="g" x="412.41" y="98.85" width="6.1" height="9.7"/><rect class="g" x="419.60" y="98.85" width="6.1" height="9.7"/><rect class="g" x="426.79" y="98.85" width="6.1" height="9.7"/><rect class="g" x="433.98" y="98.85" width="6.1" height="9.7"/><rect class="g" x="441.18" y="98.85" width="6.1" height="9.7"/><rect class="g" x="448.37" y="98.85" width="6.1" height="9.7"/><rect class="g" x="455.56" y="98.85" width="6.1" height="9.7"/><rect class="d" x="462.75" y="98.85" width="6.1" height="9.7"/><rect class="g" x="469.94" y="98.85" width="6.1" height="9.7"/><rect class="g" x="477.14" y="98.85" width="6.1" height="9.7"/><rect class="g" x="484.33" y="98.85" width="6.1" height="9.7"/><rect class="g" x="491.52" y="98.85" width="6.1" height="9.7"/><rect class="g" x="498.71" y="98.85" width="6.1" height="9.7"/><rect class="g" x="505.90" y="98.85" width="6.1" height="9.7"/><rect class="g" x="60.00" y="109.90" width="6.1" height="9.7"/><rect class="g" x="67.19" y="109.90" width="6.1" height="9.7"/><rect class="g" x="74.38" y="109.90" width="6.1" height="9.7"/><rect class="g" x="81.58" y="109.90" width="6.1" height="9.7"/><rect class="g" x="88.77" y="109.90" width="6.1" height="9.7"/><rect class="g" x="95.96" y="109.90" width="6.1" height="9.7"/><rect class="g" x="103.15" y="109.90" width="6.1" height="9.7"/><rect class="g" x="110.34" y="109.90" width="6.1" height="9.7"/><rect class="g" x="117.54" y="109.90" width="6.1" height="9.7"/><rect class="g" x="124.73" y="109.90" width="6.1" height="9.7"/><rect class="g" x="131.92" y="109.90" width="6.1" height="9.7"/><rect class="g" x="139.11" y="109.90" width="6.1" height="9.7"/><rect class="g" x="146.30" y="109.90" width="6.1" height="9.7"/><rect class="g" x="153.50" y="109.90" width="6.1" height="9.7"/><rect class="g" x="160.69" y="109.90" width="6.1" height="9.7"/><rect class="g" x="167.88" y="109.90" width="6.1" height="9.7"/><rect class="g" x="175.07" y="109.90" width="6.1" height="9.7"/><rect class="g" x="182.26" y="109.90" width="6.1" height="9.7"/><rect class="g" x="189.46" y="109.90" width="6.1" height="9.7"/><rect class="g" x="196.65" y="109.90" width="6.1" height="9.7"/><rect class="g" x="203.84" y="109.90" width="6.1" height="9.7"/><rect class="g" x="211.03" y="109.90" width="6.1" height="9.7"/><rect class="g" x="218.22" y="109.90" width="6.1" height="9.7"/><rect class="g" x="225.42" y="109.90" width="6.1" height="9.7"/><rect class="g" x="232.61" y="109.90" width="6.1" height="9.7"/><rect class="g" x="239.80" y="109.90" width="6.1" height="9.7"/><rect class="g" x="246.99" y="109.90" width="6.1" height="9.7"/><rect class="g" x="254.18" y="109.90" width="6.1" height="9.7"/><rect class="g" x="261.38" y="109.90" width="6.1" height="9.7"/><rect class="g" x="268.57" y="109.90" width="6.1" height="9.7"/><rect class="g" x="275.76" y="109.90" width="6.1" height="9.7"/><rect class="g" x="282.95" y="109.90" width="6.1" height="9.7"/><rect class="g" x="290.14" y="109.90" width="6.1" height="9.7"/><rect class="g" x="297.34" y="109.90" width="6.1" height="9.7"/><rect class="g" x="304.53" y="109.90" width="6.1" height="9.7"/><rect class="g" x="311.72" y="109.90" width="6.1" height="9.7"/><rect class="g" x="318.91" y="109.90" width="6.1" height="9.7"/><rect class="g" x="326.10" y="109.90" width="6.1" height="9.7"/><rect class="g" x="333.30" y="109.90" width="6.1" height="9.7"/><rect class="g" x="340.49" y="109.90" width="6.1" height="9.7"/><rect class="g" x="347.68" y="109.90" width="6.1" height="9.7"/><rect class="g" x="354.87" y="109.90" width="6.1" height="9.7"/><rect class="g" x="362.06" y="109.90" width="6.1" height="9.7"/><rect class="g" x="369.26" y="109.90" width="6.1" height="9.7"/><rect class="g" x="376.45" y="109.90" width="6.1" height="9.7"/><rect class="g" x="383.64" y="109.90" width="6.1" height="9.7"/><rect class="g" x="390.83" y="109.90" width="6.1" height="9.7"/><rect class="g" x="398.02" y="109.90" width="6.1" height="9.7"/><rect class="g" x="405.22" y="109.90" width="6.1" height="9.7"/><rect class="g" x="412.41" y="109.90" width="6.1" height="9.7"/><rect class="g" x="419.60" y="109.90" width="6.1" height="9.7"/><rect class="g" x="426.79" y="109.90" width="6.1" height="9.7"/><rect class="g" x="433.98" y="109.90" width="6.1" height="9.7"/><rect class="g" x="441.18" y="109.90" width="6.1" height="9.7"/><rect class="g" x="448.37" y="109.90" width="6.1" height="9.7"/><rect class="g" x="455.56" y="109.90" width="6.1" height="9.7"/><rect class="g" x="462.75" y="109.90" width="6.1" height="9.7"/><rect class="d" x="469.94" y="109.90" width="6.1" height="9.7"/><rect class="g" x="477.14" y="109.90" width="6.1" height="9.7"/><rect class="g" x="484.33" y="109.90" width="6.1" height="9.7"/><rect class="g" x="491.52" y="109.90" width="6.1" height="9.7"/><rect class="g" x="498.71" y="109.90" width="6.1" height="9.7"/><rect class="g" x="505.90" y="109.90" width="6.1" height="9.7"/><rect class="g" x="60.00" y="120.95" width="6.1" height="9.7"/><rect class="g" x="67.19" y="120.95" width="6.1" height="9.7"/><rect class="g" x="74.38" y="120.95" width="6.1" height="9.7"/><rect class="g" x="81.58" y="120.95" width="6.1" height="9.7"/><rect class="g" x="88.77" y="120.95" width="6.1" height="9.7"/><rect class="g" x="95.96" y="120.95" width="6.1" height="9.7"/><rect class="g" x="103.15" y="120.95" width="6.1" height="9.7"/><rect class="g" x="110.34" y="120.95" width="6.1" height="9.7"/><rect class="g" x="117.54" y="120.95" width="6.1" height="9.7"/><rect class="g" x="124.73" y="120.95" width="6.1" height="9.7"/><rect class="g" x="131.92" y="120.95" width="6.1" height="9.7"/><rect class="g" x="139.11" y="120.95" width="6.1" height="9.7"/><rect class="g" x="146.30" y="120.95" width="6.1" height="9.7"/><rect class="g" x="153.50" y="120.95" width="6.1" height="9.7"/><rect class="g" x="160.69" y="120.95" width="6.1" height="9.7"/><rect class="g" x="167.88" y="120.95" width="6.1" height="9.7"/><rect class="g" x="175.07" y="120.95" width="6.1" height="9.7"/><rect class="g" x="182.26" y="120.95" width="6.1" height="9.7"/><rect class="g" x="189.46" y="120.95" width="6.1" height="9.7"/><rect class="g" x="196.65" y="120.95" width="6.1" height="9.7"/><rect class="g" x="203.84" y="120.95" width="6.1" height="9.7"/><rect class="g" x="211.03" y="120.95" width="6.1" height="9.7"/><rect class="g" x="218.22" y="120.95" width="6.1" height="9.7"/><rect class="g" x="225.42" y="120.95" width="6.1" height="9.7"/><rect class="g" x="232.61" y="120.95" width="6.1" height="9.7"/><rect class="g" x="239.80" y="120.95" width="6.1" height="9.7"/><rect class="g" x="246.99" y="120.95" width="6.1" height="9.7"/><rect class="g" x="254.18" y="120.95" width="6.1" height="9.7"/><rect class="g" x="261.38" y="120.95" width="6.1" height="9.7"/><rect class="g" x="268.57" y="120.95" width="6.1" height="9.7"/><rect class="c" x="275.76" y="120.95" width="6.1" height="9.7"/><rect class="g" x="282.95" y="120.95" width="6.1" height="9.7"/><rect class="g" x="290.14" y="120.95" width="6.1" height="9.7"/><rect class="g" x="297.34" y="120.95" width="6.1" height="9.7"/><rect class="g" x="304.53" y="120.95" width="6.1" height="9.7"/><rect class="g" x="311.72" y="120.95" width="6.1" height="9.7"/><rect class="g" x="318.91" y="120.95" width="6.1" height="9.7"/><rect class="g" x="326.10" y="120.95" width="6.1" height="9.7"/><rect class="g" x="333.30" y="120.95" width="6.1" height="9.7"/><rect class="g" x="340.49" y="120.95" width="6.1" height="9.7"/><rect class="g" x="347.68" y="120.95" width="6.1" height="9.7"/><rect class="g" x="354.87" y="120.95" width="6.1" height="9.7"/><rect class="g" x="362.06" y="120.95" width="6.1" height="9.7"/><rect class="g" x="369.26" y="120.95" width="6.1" height="9.7"/><rect class="g" x="376.45" y="120.95" width="6.1" height="9.7"/><rect class="g" x="383.64" y="120.95" width="6.1" height="9.7"/><rect class="g" x="390.83" y="120.95" width="6.1" height="9.7"/><rect class="g" x="398.02" y="120.95" width="6.1" height="9.7"/><rect class="g" x="405.22" y="120.95" width="6.1" height="9.7"/><rect class="g" x="412.41" y="120.95" width="6.1" height="9.7"/><rect class="g" x="419.60" y="120.95" width="6.1" height="9.7"/><rect class="g" x="426.79" y="120.95" width="6.1" height="9.7"/><rect class="g" x="433.98" y="120.95" width="6.1" height="9.7"/><rect class="g" x="441.18" y="120.95" width="6.1" height="9.7"/><rect class="g" x="448.37" y="120.95" width="6.1" height="9.7"/><rect class="g" x="455.56" y="120.95" width="6.1" height="9.7"/><rect class="d" x="462.75" y="120.95" width="6.1" height="9.7"/><rect class="g" x="469.94" y="120.95" width="6.1" height="9.7"/><rect class="g" x="477.14" y="120.95" width="6.1" height="9.7"/><rect class="g" x="484.33" y="120.95" width="6.1" height="9.7"/><rect class="g" x="491.52" y="120.95" width="6.1" height="9.7"/><rect class="g" x="498.71" y="120.95" width="6.1" height="9.7"/><rect class="g" x="505.90" y="120.95" width="6.1" height="9.7"/><rect class="g" x="60.00" y="132.00" width="6.1" height="9.7"/><rect class="g" x="67.19" y="132.00" width="6.1" height="9.7"/><rect class="g" x="74.38" y="132.00" width="6.1" height="9.7"/><rect class="g" x="81.58" y="132.00" width="6.1" height="9.7"/><rect class="g" x="88.77" y="132.00" width="6.1" height="9.7"/><rect class="g" x="95.96" y="132.00" width="6.1" height="9.7"/><rect class="g" x="103.15" y="132.00" width="6.1" height="9.7"/><rect class="g" x="110.34" y="132.00" width="6.1" height="9.7"/><rect class="g" x="117.54" y="132.00" width="6.1" height="9.7"/><rect class="m" x="124.73" y="132.00" width="6.1" height="9.7"/><rect class="c" x="131.92" y="132.00" width="6.1" height="9.7"/><rect class="m" x="139.11" y="132.00" width="6.1" height="9.7"/><rect class="c" x="146.30" y="132.00" width="6.1" height="9.7"/><rect class="m" x="153.50" y="132.00" width="6.1" height="9.7"/><rect class="d" x="160.69" y="132.00" width="6.1" height="9.7"/><rect class="g" x="167.88" y="132.00" width="6.1" height="9.7"/><rect class="g" x="175.07" y="132.00" width="6.1" height="9.7"/><rect class="g" x="182.26" y="132.00" width="6.1" height="9.7"/><rect class="g" x="189.46" y="132.00" width="6.1" height="9.7"/><rect class="g" x="196.65" y="132.00" width="6.1" height="9.7"/><rect class="g" x="203.84" y="132.00" width="6.1" height="9.7"/><rect class="g" x="211.03" y="132.00" width="6.1" height="9.7"/><rect class="o" x="218.22" y="132.00" width="6.1" height="9.7"/><rect class="g" x="225.42" y="132.00" width="6.1" height="9.7"/><rect class="g" x="232.61" y="132.00" width="6.1" height="9.7"/><rect class="g" x="239.80" y="132.00" width="6.1" height="9.7"/><rect class="g" x="246.99" y="132.00" width="6.1" height="9.7"/><rect class="g" x="254.18" y="132.00" width="6.1" height="9.7"/><rect class="g" x="261.38" y="132.00" width="6.1" height="9.7"/><rect class="g" x="268.57" y="132.00" width="6.1" height="9.7"/><rect class="g" x="275.76" y="132.00" width="6.1" height="9.7"/><rect class="g" x="282.95" y="132.00" width="6.1" height="9.7"/><rect class="g" x="290.14" y="132.00" width="6.1" height="9.7"/><rect class="g" x="297.34" y="132.00" width="6.1" height="9.7"/><rect class="g" x="304.53" y="132.00" width="6.1" height="9.7"/><rect class="o" x="311.72" y="132.00" width="6.1" height="9.7"/><rect class="d" x="318.91" y="132.00" width="6.1" height="9.7"/><rect class="r" x="326.10" y="132.00" width="6.1" height="9.7"/><rect class="g" x="333.30" y="132.00" width="6.1" height="9.7"/><rect class="g" x="340.49" y="132.00" width="6.1" height="9.7"/><rect class="g" x="347.68" y="132.00" width="6.1" height="9.7"/><rect class="g" x="354.87" y="132.00" width="6.1" height="9.7"/><rect class="g" x="362.06" y="132.00" width="6.1" height="9.7"/><rect class="d" x="369.26" y="132.00" width="6.1" height="9.7"/><rect class="g" x="376.45" y="132.00" width="6.1" height="9.7"/><rect class="g" x="383.64" y="132.00" width="6.1" height="9.7"/><rect class="g" x="390.83" y="132.00" width="6.1" height="9.7"/><rect class="g" x="398.02" y="132.00" width="6.1" height="9.7"/><rect class="g" x="405.22" y="132.00" width="6.1" height="9.7"/><rect class="g" x="412.41" y="132.00" width="6.1" height="9.7"/><rect class="d" x="419.60" y="132.00" width="6.1" height="9.7"/><rect class="d" x="426.79" y="132.00" width="6.1" height="9.7"/><rect class="g" x="433.98" y="132.00" width="6.1" height="9.7"/><rect class="g" x="441.18" y="132.00" width="6.1" height="9.7"/><rect class="g" x="448.37" y="132.00" width="6.1" height="9.7"/><rect class="g" x="455.56" y="132.00" width="6.1" height="9.7"/><rect class="d" x="462.75" y="132.00" width="6.1" height="9.7"/><rect class="d" x="469.94" y="132.00" width="6.1" height="9.7"/><rect class="d" x="477.14" y="132.00" width="6.1" height="9.7"/><rect class="d" x="484.33" y="132.00" width="6.1" height="9.7"/><rect class="d" x="491.52" y="132.00" width="6.1" height="9.7"/><rect class="d" x="498.71" y="132.00" width="6.1" height="9.7"/><rect class="g" x="505.90" y="132.00" width="6.1" height="9.7"/><rect class="m" x="60.00" y="143.05" width="6.1" height="9.7"/><rect class="g" x="67.19" y="143.05" width="6.1" height="9.7"/><rect class="c" x="74.38" y="143.05" width="6.1" height="9.7"/><rect class="c" x="81.58" y="143.05" width="6.1" height="9.7"/><rect class="d" x="88.77" y="143.05" width="6.1" height="9.7"/><rect class="g" x="95.96" y="143.05" width="6.1" height="9.7"/><rect class="d" x="103.15" y="143.05" width="6.1" height="9.7"/><rect class="g" x="110.34" y="143.05" width="6.1" height="9.7"/><rect class="g" x="117.54" y="143.05" width="6.1" height="9.7"/><rect class="m" x="124.73" y="143.05" width="6.1" height="9.7"/><rect class="g" x="131.92" y="143.05" width="6.1" height="9.7"/><rect class="g" x="139.11" y="143.05" width="6.1" height="9.7"/><rect class="g" x="146.30" y="143.05" width="6.1" height="9.7"/><rect class="g" x="153.50" y="143.05" width="6.1" height="9.7"/><rect class="g" x="160.69" y="143.05" width="6.1" height="9.7"/><rect class="g" x="167.88" y="143.05" width="6.1" height="9.7"/><rect class="m" x="175.07" y="143.05" width="6.1" height="9.7"/><rect class="m" x="182.26" y="143.05" width="6.1" height="9.7"/><rect class="g" x="189.46" y="143.05" width="6.1" height="9.7"/><rect class="d" x="196.65" y="143.05" width="6.1" height="9.7"/><rect class="d" x="203.84" y="143.05" width="6.1" height="9.7"/><rect class="g" x="211.03" y="143.05" width="6.1" height="9.7"/><rect class="g" x="218.22" y="143.05" width="6.1" height="9.7"/><rect class="g" x="225.42" y="143.05" width="6.1" height="9.7"/><rect class="g" x="232.61" y="143.05" width="6.1" height="9.7"/><rect class="g" x="239.80" y="143.05" width="6.1" height="9.7"/><rect class="g" x="246.99" y="143.05" width="6.1" height="9.7"/><rect class="d" x="254.18" y="143.05" width="6.1" height="9.7"/><rect class="g" x="261.38" y="143.05" width="6.1" height="9.7"/><rect class="d" x="268.57" y="143.05" width="6.1" height="9.7"/><rect class="g" x="275.76" y="143.05" width="6.1" height="9.7"/><rect class="g" x="282.95" y="143.05" width="6.1" height="9.7"/><rect class="g" x="290.14" y="143.05" width="6.1" height="9.7"/><rect class="d" x="297.34" y="143.05" width="6.1" height="9.7"/><rect class="g" x="304.53" y="143.05" width="6.1" height="9.7"/><rect class="g" x="311.72" y="143.05" width="6.1" height="9.7"/><rect class="d" x="318.91" y="143.05" width="6.1" height="9.7"/><rect class="d" x="326.10" y="143.05" width="6.1" height="9.7"/><rect class="g" x="333.30" y="143.05" width="6.1" height="9.7"/><rect class="g" x="340.49" y="143.05" width="6.1" height="9.7"/><rect class="g" x="347.68" y="143.05" width="6.1" height="9.7"/><rect class="g" x="354.87" y="143.05" width="6.1" height="9.7"/><rect class="g" x="362.06" y="143.05" width="6.1" height="9.7"/><rect class="g" x="369.26" y="143.05" width="6.1" height="9.7"/><rect class="g" x="376.45" y="143.05" width="6.1" height="9.7"/><rect class="g" x="383.64" y="143.05" width="6.1" height="9.7"/><rect class="g" x="390.83" y="143.05" width="6.1" height="9.7"/><rect class="g" x="398.02" y="143.05" width="6.1" height="9.7"/><rect class="g" x="405.22" y="143.05" width="6.1" height="9.7"/><rect class="g" x="412.41" y="143.05" width="6.1" height="9.7"/><rect class="g" x="419.60" y="143.05" width="6.1" height="9.7"/><rect class="g" x="426.79" y="143.05" width="6.1" height="9.7"/><rect class="g" x="433.98" y="143.05" width="6.1" height="9.7"/><rect class="g" x="441.18" y="143.05" width="6.1" height="9.7"/><rect class="g" x="448.37" y="143.05" width="6.1" height="9.7"/><rect class="g" x="455.56" y="143.05" width="6.1" height="9.7"/><rect class="g" x="462.75" y="143.05" width="6.1" height="9.7"/><rect class="g" x="469.94" y="143.05" width="6.1" height="9.7"/><rect class="g" x="477.14" y="143.05" width="6.1" height="9.7"/><rect class="g" x="484.33" y="143.05" width="6.1" height="9.7"/><rect class="g" x="491.52" y="143.05" width="6.1" height="9.7"/><rect class="g" x="498.71" y="143.05" width="6.1" height="9.7"/><rect class="d" x="505.90" y="143.05" width="6.1" height="9.7"/><rect class="g" x="60.00" y="154.10" width="6.1" height="9.7"/><rect class="g" x="67.19" y="154.10" width="6.1" height="9.7"/><rect class="d" x="74.38" y="154.10" width="6.1" height="9.7"/><rect class="d" x="81.58" y="154.10" width="6.1" height="9.7"/><rect class="g" x="88.77" y="154.10" width="6.1" height="9.7"/><rect class="g" x="95.96" y="154.10" width="6.1" height="9.7"/><rect class="d" x="103.15" y="154.10" width="6.1" height="9.7"/><rect class="g" x="110.34" y="154.10" width="6.1" height="9.7"/><rect class="g" x="117.54" y="154.10" width="6.1" height="9.7"/><rect class="g" x="124.73" y="154.10" width="6.1" height="9.7"/><rect class="g" x="131.92" y="154.10" width="6.1" height="9.7"/><rect class="g" x="139.11" y="154.10" width="6.1" height="9.7"/><rect class="g" x="146.30" y="154.10" width="6.1" height="9.7"/><rect class="m" x="153.50" y="154.10" width="6.1" height="9.7"/><rect class="g" x="160.69" y="154.10" width="6.1" height="9.7"/><rect class="g" x="167.88" y="154.10" width="6.1" height="9.7"/><rect class="g" x="175.07" y="154.10" width="6.1" height="9.7"/><rect class="g" x="182.26" y="154.10" width="6.1" height="9.7"/><rect class="g" x="189.46" y="154.10" width="6.1" height="9.7"/><rect class="g" x="196.65" y="154.10" width="6.1" height="9.7"/><rect class="d" x="203.84" y="154.10" width="6.1" height="9.7"/><rect class="g" x="211.03" y="154.10" width="6.1" height="9.7"/><rect class="g" x="218.22" y="154.10" width="6.1" height="9.7"/><rect class="d" x="225.42" y="154.10" width="6.1" height="9.7"/><rect class="g" x="232.61" y="154.10" width="6.1" height="9.7"/><rect class="d" x="239.80" y="154.10" width="6.1" height="9.7"/><rect class="g" x="246.99" y="154.10" width="6.1" height="9.7"/><rect class="g" x="254.18" y="154.10" width="6.1" height="9.7"/><rect class="g" x="261.38" y="154.10" width="6.1" height="9.7"/><rect class="d" x="268.57" y="154.10" width="6.1" height="9.7"/><rect class="g" x="275.76" y="154.10" width="6.1" height="9.7"/><rect class="d" x="282.95" y="154.10" width="6.1" height="9.7"/><rect class="g" x="290.14" y="154.10" width="6.1" height="9.7"/><rect class="g" x="297.34" y="154.10" width="6.1" height="9.7"/><rect class="g" x="304.53" y="154.10" width="6.1" height="9.7"/><rect class="g" x="311.72" y="154.10" width="6.1" height="9.7"/><rect class="g" x="318.91" y="154.10" width="6.1" height="9.7"/><rect class="d" x="326.10" y="154.10" width="6.1" height="9.7"/><rect class="g" x="333.30" y="154.10" width="6.1" height="9.7"/><rect class="g" x="340.49" y="154.10" width="6.1" height="9.7"/><rect class="d" x="347.68" y="154.10" width="6.1" height="9.7"/><rect class="g" x="354.87" y="154.10" width="6.1" height="9.7"/><rect class="g" x="362.06" y="154.10" width="6.1" height="9.7"/><rect class="d" x="369.26" y="154.10" width="6.1" height="9.7"/><rect class="d" x="376.45" y="154.10" width="6.1" height="9.7"/><rect class="g" x="383.64" y="154.10" width="6.1" height="9.7"/><rect class="g" x="390.83" y="154.10" width="6.1" height="9.7"/><rect class="g" x="398.02" y="154.10" width="6.1" height="9.7"/><rect class="g" x="405.22" y="154.10" width="6.1" height="9.7"/><rect class="g" x="412.41" y="154.10" width="6.1" height="9.7"/><rect class="g" x="419.60" y="154.10" width="6.1" height="9.7"/><rect class="g" x="426.79" y="154.10" width="6.1" height="9.7"/><rect class="d" x="433.98" y="154.10" width="6.1" height="9.7"/><rect class="g" x="441.18" y="154.10" width="6.1" height="9.7"/><rect class="d" x="448.37" y="154.10" width="6.1" height="9.7"/><rect class="g" x="455.56" y="154.10" width="6.1" height="9.7"/><rect class="g" x="462.75" y="154.10" width="6.1" height="9.7"/><rect class="d" x="469.94" y="154.10" width="6.1" height="9.7"/><rect class="g" x="477.14" y="154.10" width="6.1" height="9.7"/><rect class="g" x="484.33" y="154.10" width="6.1" height="9.7"/><rect class="d" x="491.52" y="154.10" width="6.1" height="9.7"/><rect class="g" x="498.71" y="154.10" width="6.1" height="9.7"/><rect class="g" x="505.90" y="154.10" width="6.1" height="9.7"/><rect class="g" x="60.00" y="165.15" width="6.1" height="9.7"/><rect class="g" x="67.19" y="165.15" width="6.1" height="9.7"/><rect class="g" x="74.38" y="165.15" width="6.1" height="9.7"/><rect class="g" x="81.58" y="165.15" width="6.1" height="9.7"/><rect class="g" x="88.77" y="165.15" width="6.1" height="9.7"/><rect class="g" x="95.96" y="165.15" width="6.1" height="9.7"/><rect class="g" x="103.15" y="165.15" width="6.1" height="9.7"/><rect class="g" x="110.34" y="165.15" width="6.1" height="9.7"/><rect class="g" x="117.54" y="165.15" width="6.1" height="9.7"/><rect class="g" x="124.73" y="165.15" width="6.1" height="9.7"/><rect class="g" x="131.92" y="165.15" width="6.1" height="9.7"/><rect class="m" x="139.11" y="165.15" width="6.1" height="9.7"/><rect class="g" x="146.30" y="165.15" width="6.1" height="9.7"/><rect class="g" x="153.50" y="165.15" width="6.1" height="9.7"/><rect class="d" x="160.69" y="165.15" width="6.1" height="9.7"/><rect class="g" x="167.88" y="165.15" width="6.1" height="9.7"/><rect class="g" x="175.07" y="165.15" width="6.1" height="9.7"/><rect class="g" x="182.26" y="165.15" width="6.1" height="9.7"/><rect class="g" x="189.46" y="165.15" width="6.1" height="9.7"/><rect class="g" x="196.65" y="165.15" width="6.1" height="9.7"/><rect class="g" x="203.84" y="165.15" width="6.1" height="9.7"/><rect class="g" x="211.03" y="165.15" width="6.1" height="9.7"/><rect class="d" x="218.22" y="165.15" width="6.1" height="9.7"/><rect class="g" x="225.42" y="165.15" width="6.1" height="9.7"/><rect class="g" x="232.61" y="165.15" width="6.1" height="9.7"/><rect class="d" x="239.80" y="165.15" width="6.1" height="9.7"/><rect class="g" x="246.99" y="165.15" width="6.1" height="9.7"/><rect class="g" x="254.18" y="165.15" width="6.1" height="9.7"/><rect class="g" x="261.38" y="165.15" width="6.1" height="9.7"/><rect class="g" x="268.57" y="165.15" width="6.1" height="9.7"/><rect class="g" x="275.76" y="165.15" width="6.1" height="9.7"/><rect class="g" x="282.95" y="165.15" width="6.1" height="9.7"/><rect class="g" x="290.14" y="165.15" width="6.1" height="9.7"/><rect class="g" x="297.34" y="165.15" width="6.1" height="9.7"/><rect class="g" x="304.53" y="165.15" width="6.1" height="9.7"/><rect class="g" x="311.72" y="165.15" width="6.1" height="9.7"/><rect class="g" x="318.91" y="165.15" width="6.1" height="9.7"/><rect class="g" x="326.10" y="165.15" width="6.1" height="9.7"/><rect class="d" x="333.30" y="165.15" width="6.1" height="9.7"/><rect class="d" x="340.49" y="165.15" width="6.1" height="9.7"/><rect class="g" x="347.68" y="165.15" width="6.1" height="9.7"/><rect class="g" x="354.87" y="165.15" width="6.1" height="9.7"/><rect class="g" x="362.06" y="165.15" width="6.1" height="9.7"/><rect class="d" x="369.26" y="165.15" width="6.1" height="9.7"/><rect class="g" x="376.45" y="165.15" width="6.1" height="9.7"/><rect class="g" x="383.64" y="165.15" width="6.1" height="9.7"/><rect class="g" x="390.83" y="165.15" width="6.1" height="9.7"/><rect class="g" x="398.02" y="165.15" width="6.1" height="9.7"/><rect class="g" x="405.22" y="165.15" width="6.1" height="9.7"/><rect class="g" x="412.41" y="165.15" width="6.1" height="9.7"/><rect class="g" x="419.60" y="165.15" width="6.1" height="9.7"/><rect class="g" x="426.79" y="165.15" width="6.1" height="9.7"/><rect class="g" x="433.98" y="165.15" width="6.1" height="9.7"/><rect class="g" x="441.18" y="165.15" width="6.1" height="9.7"/><rect class="d" x="448.37" y="165.15" width="6.1" height="9.7"/><rect class="g" x="455.56" y="165.15" width="6.1" height="9.7"/><rect class="d" x="462.75" y="165.15" width="6.1" height="9.7"/><rect class="g" x="469.94" y="165.15" width="6.1" height="9.7"/><rect class="d" x="477.14" y="165.15" width="6.1" height="9.7"/><rect class="g" x="484.33" y="165.15" width="6.1" height="9.7"/><rect class="g" x="491.52" y="165.15" width="6.1" height="9.7"/><rect class="g" x="498.71" y="165.15" width="6.1" height="9.7"/><rect class="d" x="505.90" y="165.15" width="6.1" height="9.7"/><rect class="g" x="60.00" y="176.20" width="6.1" height="9.7"/><rect class="g" x="67.19" y="176.20" width="6.1" height="9.7"/><rect class="g" x="74.38" y="176.20" width="6.1" height="9.7"/><rect class="g" x="81.58" y="176.20" width="6.1" height="9.7"/><rect class="g" x="88.77" y="176.20" width="6.1" height="9.7"/><rect class="g" x="95.96" y="176.20" width="6.1" height="9.7"/><rect class="c" x="103.15" y="176.20" width="6.1" height="9.7"/><rect class="c" x="110.34" y="176.20" width="6.1" height="9.7"/><rect class="g" x="117.54" y="176.20" width="6.1" height="9.7"/><rect class="m" x="124.73" y="176.20" width="6.1" height="9.7"/><rect class="d" x="131.92" y="176.20" width="6.1" height="9.7"/><rect class="g" x="139.11" y="176.20" width="6.1" height="9.7"/><rect class="g" x="146.30" y="176.20" width="6.1" height="9.7"/><rect class="m" x="153.50" y="176.20" width="6.1" height="9.7"/><rect class="d" x="160.69" y="176.20" width="6.1" height="9.7"/><rect class="g" x="167.88" y="176.20" width="6.1" height="9.7"/><rect class="g" x="175.07" y="176.20" width="6.1" height="9.7"/><rect class="g" x="182.26" y="176.20" width="6.1" height="9.7"/><rect class="g" x="189.46" y="176.20" width="6.1" height="9.7"/><rect class="g" x="196.65" y="176.20" width="6.1" height="9.7"/><rect class="g" x="203.84" y="176.20" width="6.1" height="9.7"/><rect class="g" x="211.03" y="176.20" width="6.1" height="9.7"/><rect class="d" x="218.22" y="176.20" width="6.1" height="9.7"/><rect class="g" x="225.42" y="176.20" width="6.1" height="9.7"/><rect class="g" x="232.61" y="176.20" width="6.1" height="9.7"/><rect class="g" x="239.80" y="176.20" width="6.1" height="9.7"/><rect class="g" x="246.99" y="176.20" width="6.1" height="9.7"/><rect class="g" x="254.18" y="176.20" width="6.1" height="9.7"/><rect class="g" x="261.38" y="176.20" width="6.1" height="9.7"/><rect class="g" x="268.57" y="176.20" width="6.1" height="9.7"/><rect class="g" x="275.76" y="176.20" width="6.1" height="9.7"/><rect class="d" x="282.95" y="176.20" width="6.1" height="9.7"/><rect class="g" x="290.14" y="176.20" width="6.1" height="9.7"/><rect class="g" x="297.34" y="176.20" width="6.1" height="9.7"/><rect class="g" x="304.53" y="176.20" width="6.1" height="9.7"/><rect class="g" x="311.72" y="176.20" width="6.1" height="9.7"/><rect class="g" x="318.91" y="176.20" width="6.1" height="9.7"/><rect class="g" x="326.10" y="176.20" width="6.1" height="9.7"/><rect class="g" x="333.30" y="176.20" width="6.1" height="9.7"/><rect class="d" x="340.49" y="176.20" width="6.1" height="9.7"/><rect class="g" x="347.68" y="176.20" width="6.1" height="9.7"/><rect class="c" x="354.87" y="176.20" width="6.1" height="9.7"/><rect class="g" x="362.06" y="176.20" width="6.1" height="9.7"/><rect class="d" x="369.26" y="176.20" width="6.1" height="9.7"/><rect class="g" x="376.45" y="176.20" width="6.1" height="9.7"/><rect class="g" x="383.64" y="176.20" width="6.1" height="9.7"/><rect class="g" x="390.83" y="176.20" width="6.1" height="9.7"/><rect class="g" x="398.02" y="176.20" width="6.1" height="9.7"/><rect class="g" x="405.22" y="176.20" width="6.1" height="9.7"/><rect class="g" x="412.41" y="176.20" width="6.1" height="9.7"/><rect class="g" x="419.60" y="176.20" width="6.1" height="9.7"/><rect class="d" x="426.79" y="176.20" width="6.1" height="9.7"/><rect class="g" x="433.98" y="176.20" width="6.1" height="9.7"/><rect class="g" x="441.18" y="176.20" width="6.1" height="9.7"/><rect class="g" x="448.37" y="176.20" width="6.1" height="9.7"/><rect class="g" x="455.56" y="176.20" width="6.1" height="9.7"/><rect class="g" x="462.75" y="176.20" width="6.1" height="9.7"/><rect class="g" x="469.94" y="176.20" width="6.1" height="9.7"/><rect class="d" x="477.14" y="176.20" width="6.1" height="9.7"/><rect class="g" x="484.33" y="176.20" width="6.1" height="9.7"/><rect class="g" x="491.52" y="176.20" width="6.1" height="9.7"/><rect class="g" x="498.71" y="176.20" width="6.1" height="9.7"/><rect class="d" x="505.90" y="176.20" width="6.1" height="9.7"/><rect class="g" x="60.00" y="187.25" width="6.1" height="9.7"/><rect class="m" x="67.19" y="187.25" width="6.1" height="9.7"/><rect class="g" x="74.38" y="187.25" width="6.1" height="9.7"/><rect class="g" x="81.58" y="187.25" width="6.1" height="9.7"/><rect class="c" x="88.77" y="187.25" width="6.1" height="9.7"/><rect class="g" x="95.96" y="187.25" width="6.1" height="9.7"/><rect class="g" x="103.15" y="187.25" width="6.1" height="9.7"/><rect class="g" x="110.34" y="187.25" width="6.1" height="9.7"/><rect class="g" x="117.54" y="187.25" width="6.1" height="9.7"/><rect class="g" x="124.73" y="187.25" width="6.1" height="9.7"/><rect class="g" x="131.92" y="187.25" width="6.1" height="9.7"/><rect class="g" x="139.11" y="187.25" width="6.1" height="9.7"/><rect class="g" x="146.30" y="187.25" width="6.1" height="9.7"/><rect class="g" x="153.50" y="187.25" width="6.1" height="9.7"/><rect class="g" x="160.69" y="187.25" width="6.1" height="9.7"/><rect class="g" x="167.88" y="187.25" width="6.1" height="9.7"/><rect class="g" x="175.07" y="187.25" width="6.1" height="9.7"/><rect class="g" x="182.26" y="187.25" width="6.1" height="9.7"/><rect class="g" x="189.46" y="187.25" width="6.1" height="9.7"/><rect class="g" x="196.65" y="187.25" width="6.1" height="9.7"/><rect class="g" x="203.84" y="187.25" width="6.1" height="9.7"/><rect class="g" x="211.03" y="187.25" width="6.1" height="9.7"/><rect class="g" x="218.22" y="187.25" width="6.1" height="9.7"/><rect class="g" x="225.42" y="187.25" width="6.1" height="9.7"/><rect class="g" x="232.61" y="187.25" width="6.1" height="9.7"/><rect class="c" x="239.80" y="187.25" width="6.1" height="9.7"/><rect class="g" x="246.99" y="187.25" width="6.1" height="9.7"/><rect class="g" x="254.18" y="187.25" width="6.1" height="9.7"/><rect class="g" x="261.38" y="187.25" width="6.1" height="9.7"/><rect class="g" x="268.57" y="187.25" width="6.1" height="9.7"/><rect class="d" x="275.76" y="187.25" width="6.1" height="9.7"/><rect class="g" x="282.95" y="187.25" width="6.1" height="9.7"/><rect class="g" x="290.14" y="187.25" width="6.1" height="9.7"/><rect class="d" x="297.34" y="187.25" width="6.1" height="9.7"/><rect class="g" x="304.53" y="187.25" width="6.1" height="9.7"/><rect class="g" x="311.72" y="187.25" width="6.1" height="9.7"/><rect class="g" x="318.91" y="187.25" width="6.1" height="9.7"/><rect class="g" x="326.10" y="187.25" width="6.1" height="9.7"/><rect class="g" x="333.30" y="187.25" width="6.1" height="9.7"/><rect class="d" x="340.49" y="187.25" width="6.1" height="9.7"/><rect class="g" x="347.68" y="187.25" width="6.1" height="9.7"/><rect class="g" x="354.87" y="187.25" width="6.1" height="9.7"/><rect class="d" x="362.06" y="187.25" width="6.1" height="9.7"/><rect class="g" x="369.26" y="187.25" width="6.1" height="9.7"/><rect class="g" x="376.45" y="187.25" width="6.1" height="9.7"/><rect class="g" x="383.64" y="187.25" width="6.1" height="9.7"/><rect class="g" x="390.83" y="187.25" width="6.1" height="9.7"/><rect class="g" x="398.02" y="187.25" width="6.1" height="9.7"/><rect class="g" x="405.22" y="187.25" width="6.1" height="9.7"/><rect class="d" x="412.41" y="187.25" width="6.1" height="9.7"/><rect class="g" x="419.60" y="187.25" width="6.1" height="9.7"/><rect class="d" x="426.79" y="187.25" width="6.1" height="9.7"/><rect class="g" x="433.98" y="187.25" width="6.1" height="9.7"/><rect class="g" x="441.18" y="187.25" width="6.1" height="9.7"/><rect class="g" x="448.37" y="187.25" width="6.1" height="9.7"/><rect class="g" x="455.56" y="187.25" width="6.1" height="9.7"/><rect class="g" x="462.75" y="187.25" width="6.1" height="9.7"/><rect class="g" x="469.94" y="187.25" width="6.1" height="9.7"/><rect class="g" x="477.14" y="187.25" width="6.1" height="9.7"/><rect class="g" x="484.33" y="187.25" width="6.1" height="9.7"/><rect class="g" x="491.52" y="187.25" width="6.1" height="9.7"/><rect class="g" x="498.71" y="187.25" width="6.1" height="9.7"/><rect class="g" x="505.90" y="187.25" width="6.1" height="9.7"/><rect class="g" x="60.00" y="198.30" width="6.1" height="9.7"/><rect class="g" x="67.19" y="198.30" width="6.1" height="9.7"/><rect class="g" x="74.38" y="198.30" width="6.1" height="9.7"/><rect class="g" x="81.58" y="198.30" width="6.1" height="9.7"/><rect class="g" x="88.77" y="198.30" width="6.1" height="9.7"/><rect class="g" x="95.96" y="198.30" width="6.1" height="9.7"/><rect class="d" x="103.15" y="198.30" width="6.1" height="9.7"/><rect class="c" x="110.34" y="198.30" width="6.1" height="9.7"/><rect class="c" x="117.54" y="198.30" width="6.1" height="9.7"/><rect class="d" x="124.73" y="198.30" width="6.1" height="9.7"/><rect class="d" x="131.92" y="198.30" width="6.1" height="9.7"/><rect class="c" x="139.11" y="198.30" width="6.1" height="9.7"/><rect class="c" x="146.30" y="198.30" width="6.1" height="9.7"/><rect class="g" x="153.50" y="198.30" width="6.1" height="9.7"/><rect class="g" x="160.69" y="198.30" width="6.1" height="9.7"/><rect class="g" x="167.88" y="198.30" width="6.1" height="9.7"/><rect class="g" x="175.07" y="198.30" width="6.1" height="9.7"/><rect class="g" x="182.26" y="198.30" width="6.1" height="9.7"/><rect class="g" x="189.46" y="198.30" width="6.1" height="9.7"/><rect class="g" x="196.65" y="198.30" width="6.1" height="9.7"/><rect class="g" x="203.84" y="198.30" width="6.1" height="9.7"/><rect class="g" x="211.03" y="198.30" width="6.1" height="9.7"/><rect class="g" x="218.22" y="198.30" width="6.1" height="9.7"/><rect class="g" x="225.42" y="198.30" width="6.1" height="9.7"/><rect class="g" x="232.61" y="198.30" width="6.1" height="9.7"/><rect class="g" x="239.80" y="198.30" width="6.1" height="9.7"/><rect class="g" x="246.99" y="198.30" width="6.1" height="9.7"/><rect class="g" x="254.18" y="198.30" width="6.1" height="9.7"/><rect class="g" x="261.38" y="198.30" width="6.1" height="9.7"/><rect class="g" x="268.57" y="198.30" width="6.1" height="9.7"/><rect class="g" x="275.76" y="198.30" width="6.1" height="9.7"/><rect class="g" x="282.95" y="198.30" width="6.1" height="9.7"/><rect class="g" x="290.14" y="198.30" width="6.1" height="9.7"/><rect class="g" x="297.34" y="198.30" width="6.1" height="9.7"/><rect class="g" x="304.53" y="198.30" width="6.1" height="9.7"/><rect class="g" x="311.72" y="198.30" width="6.1" height="9.7"/><rect class="g" x="318.91" y="198.30" width="6.1" height="9.7"/><rect class="g" x="326.10" y="198.30" width="6.1" height="9.7"/><rect class="g" x="333.30" y="198.30" width="6.1" height="9.7"/><rect class="g" x="340.49" y="198.30" width="6.1" height="9.7"/><rect class="g" x="347.68" y="198.30" width="6.1" height="9.7"/><rect class="d" x="354.87" y="198.30" width="6.1" height="9.7"/><rect class="g" x="362.06" y="198.30" width="6.1" height="9.7"/><rect class="g" x="369.26" y="198.30" width="6.1" height="9.7"/><rect class="g" x="376.45" y="198.30" width="6.1" height="9.7"/><rect class="g" x="383.64" y="198.30" width="6.1" height="9.7"/><rect class="g" x="390.83" y="198.30" width="6.1" height="9.7"/><rect class="g" x="398.02" y="198.30" width="6.1" height="9.7"/><rect class="g" x="405.22" y="198.30" width="6.1" height="9.7"/><rect class="g" x="412.41" y="198.30" width="6.1" height="9.7"/><rect class="g" x="419.60" y="198.30" width="6.1" height="9.7"/><rect class="g" x="426.79" y="198.30" width="6.1" height="9.7"/><rect class="g" x="433.98" y="198.30" width="6.1" height="9.7"/><rect class="g" x="441.18" y="198.30" width="6.1" height="9.7"/><rect class="g" x="448.37" y="198.30" width="6.1" height="9.7"/><rect class="g" x="455.56" y="198.30" width="6.1" height="9.7"/><rect class="g" x="462.75" y="198.30" width="6.1" height="9.7"/><rect class="g" x="469.94" y="198.30" width="6.1" height="9.7"/><rect class="g" x="477.14" y="198.30" width="6.1" height="9.7"/><rect class="g" x="484.33" y="198.30" width="6.1" height="9.7"/><rect class="g" x="491.52" y="198.30" width="6.1" height="9.7"/><rect class="g" x="498.71" y="198.30" width="6.1" height="9.7"/><rect class="g" x="505.90" y="198.30" width="6.1" height="9.7"/><rect class="m" x="60.00" y="209.35" width="6.1" height="9.7"/><rect class="m" x="67.19" y="209.35" width="6.1" height="9.7"/><rect class="c" x="74.38" y="209.35" width="6.1" height="9.7"/><rect class="c" x="81.58" y="209.35" width="6.1" height="9.7"/><rect class="c" x="88.77" y="209.35" width="6.1" height="9.7"/><rect class="c" x="95.96" y="209.35" width="6.1" height="9.7"/><rect class="c" x="103.15" y="209.35" width="6.1" height="9.7"/><rect class="c" x="110.34" y="209.35" width="6.1" height="9.7"/><rect class="c" x="117.54" y="209.35" width="6.1" height="9.7"/><rect class="g" x="124.73" y="209.35" width="6.1" height="9.7"/><rect class="g" x="131.92" y="209.35" width="6.1" height="9.7"/><rect class="g" x="139.11" y="209.35" width="6.1" height="9.7"/><rect class="g" x="146.30" y="209.35" width="6.1" height="9.7"/><rect class="g" x="153.50" y="209.35" width="6.1" height="9.7"/><rect class="g" x="160.69" y="209.35" width="6.1" height="9.7"/><rect class="g" x="167.88" y="209.35" width="6.1" height="9.7"/><rect class="g" x="175.07" y="209.35" width="6.1" height="9.7"/><rect class="g" x="182.26" y="209.35" width="6.1" height="9.7"/><rect class="g" x="189.46" y="209.35" width="6.1" height="9.7"/><rect class="g" x="196.65" y="209.35" width="6.1" height="9.7"/><rect class="g" x="203.84" y="209.35" width="6.1" height="9.7"/><rect class="g" x="211.03" y="209.35" width="6.1" height="9.7"/><rect class="g" x="218.22" y="209.35" width="6.1" height="9.7"/><rect class="g" x="225.42" y="209.35" width="6.1" height="9.7"/><rect class="g" x="232.61" y="209.35" width="6.1" height="9.7"/><rect class="g" x="239.80" y="209.35" width="6.1" height="9.7"/><rect class="g" x="246.99" y="209.35" width="6.1" height="9.7"/><rect class="g" x="254.18" y="209.35" width="6.1" height="9.7"/><rect class="g" x="261.38" y="209.35" width="6.1" height="9.7"/><rect class="d" x="268.57" y="209.35" width="6.1" height="9.7"/><rect class="d" x="275.76" y="209.35" width="6.1" height="9.7"/><rect class="g" x="282.95" y="209.35" width="6.1" height="9.7"/><rect class="g" x="290.14" y="209.35" width="6.1" height="9.7"/><rect class="g" x="297.34" y="209.35" width="6.1" height="9.7"/><rect class="d" x="304.53" y="209.35" width="6.1" height="9.7"/><rect class="g" x="311.72" y="209.35" width="6.1" height="9.7"/><rect class="g" x="318.91" y="209.35" width="6.1" height="9.7"/><rect class="g" x="326.10" y="209.35" width="6.1" height="9.7"/><rect class="g" x="333.30" y="209.35" width="6.1" height="9.7"/><rect class="g" x="340.49" y="209.35" width="6.1" height="9.7"/><rect class="g" x="347.68" y="209.35" width="6.1" height="9.7"/><rect class="g" x="354.87" y="209.35" width="6.1" height="9.7"/><rect class="g" x="362.06" y="209.35" width="6.1" height="9.7"/><rect class="g" x="369.26" y="209.35" width="6.1" height="9.7"/><rect class="g" x="376.45" y="209.35" width="6.1" height="9.7"/><rect class="g" x="383.64" y="209.35" width="6.1" height="9.7"/><rect class="g" x="390.83" y="209.35" width="6.1" height="9.7"/><rect class="g" x="398.02" y="209.35" width="6.1" height="9.7"/><rect class="g" x="405.22" y="209.35" width="6.1" height="9.7"/><rect class="g" x="412.41" y="209.35" width="6.1" height="9.7"/><rect class="g" x="419.60" y="209.35" width="6.1" height="9.7"/><rect class="g" x="426.79" y="209.35" width="6.1" height="9.7"/><rect class="d" x="433.98" y="209.35" width="6.1" height="9.7"/><rect class="g" x="441.18" y="209.35" width="6.1" height="9.7"/><rect class="g" x="448.37" y="209.35" width="6.1" height="9.7"/><rect class="g" x="455.56" y="209.35" width="6.1" height="9.7"/><rect class="g" x="462.75" y="209.35" width="6.1" height="9.7"/><rect class="g" x="469.94" y="209.35" width="6.1" height="9.7"/><rect class="g" x="477.14" y="209.35" width="6.1" height="9.7"/><rect class="g" x="484.33" y="209.35" width="6.1" height="9.7"/><rect class="g" x="491.52" y="209.35" width="6.1" height="9.7"/><rect class="g" x="498.71" y="209.35" width="6.1" height="9.7"/><rect class="g" x="505.90" y="209.35" width="6.1" height="9.7"/>
<rect x="188.15" y="7.8" width="1.4" height="211.4" fill="#1c1c1c"/>
<rect x="367.95" y="7.8" width="1.4" height="211.4" fill="#1c1c1c"/>
<g class="lab"><text x="8.46" y="28.90" textLength="48.61" lengthAdjust="spacingAndGlyphs" class="lab">Adverse CG</text><text x="19.81" y="39.95" textLength="36.44" lengthAdjust="spacingAndGlyphs" class="lab">Complex</text><text x="22.59" y="51.00" textLength="34.38" lengthAdjust="spacingAndGlyphs" class="lab">Del(17p)</text><text x="36.20" y="62.05" textLength="20.21" lengthAdjust="spacingAndGlyphs" class="lab">TP53</text><text x="20.67" y="73.10" textLength="35.40" lengthAdjust="spacingAndGlyphs" class="lab">FLT3-ITD</text><text x="23.77" y="84.15" textLength="33.09" lengthAdjust="spacingAndGlyphs" class="lab">N/KRAS</text><text x="42.62" y="95.20" textLength="12.82" lengthAdjust="spacingAndGlyphs" class="lab">KIT</text><text x="17.55" y="106.25" textLength="38.57" lengthAdjust="spacingAndGlyphs" class="lab">FLT3-TKD</text><text x="38.25" y="117.30" textLength="18.77" lengthAdjust="spacingAndGlyphs" class="lab">MPL</text><text x="24.04" y="128.35" textLength="32.61" lengthAdjust="spacingAndGlyphs" class="lab">PTPN11</text><text x="27.49" y="139.40" textLength="28.92" lengthAdjust="spacingAndGlyphs" class="lab">RUNX1</text><text x="18.74" y="150.45" textLength="38.04" lengthAdjust="spacingAndGlyphs" class="lab">DNMT3A</text><text x="36.12" y="161.50" textLength="20.17" lengthAdjust="spacingAndGlyphs" class="lab">TET2</text><text x="30.60" y="172.55" textLength="25.77" lengthAdjust="spacingAndGlyphs" class="lab">ASXL1</text><text x="30.64" y="183.60" textLength="25.57" lengthAdjust="spacingAndGlyphs" class="lab">SRSF2</text><text x="36.32" y="194.65" textLength="20.05" lengthAdjust="spacingAndGlyphs" class="lab">IDH1</text><text x="36.17" y="205.70" textLength="20.13" lengthAdjust="spacingAndGlyphs" class="lab">IDH2</text><text x="31.25" y="216.75" textLength="25.34" lengthAdjust="spacingAndGlyphs" class="lab">NPM1</text></g>
<text x="64.00" y="15.20" textLength="113.09" lengthAdjust="spacingAndGlyphs" class="hdr">Group A: Durable Remission</text><text x="212.40" y="15.20" textLength="133.01" lengthAdjust="spacingAndGlyphs" class="hdr">Group B: Remission then Relapse</text><text x="384.22" y="15.20" textLength="111.60" lengthAdjust="spacingAndGlyphs" class="hdr">Group C: Primary Refractory</text><text x="61.55" y="230.35" textLength="37.97" lengthAdjust="spacingAndGlyphs" class="leg">Mutations</text><text x="74.58" y="242.80" textLength="70.55" lengthAdjust="spacingAndGlyphs" class="leg">Baseline/persistent</text><text x="74.86" y="251.90" textLength="37.04" lengthAdjust="spacingAndGlyphs" class="leg">Clearance</text><text x="74.61" y="261.20" textLength="68.65" lengthAdjust="spacingAndGlyphs" class="leg">MRD not assessed</text><text x="174.43" y="243.00" textLength="38.46" lengthAdjust="spacingAndGlyphs" class="leg">Expansion</text><text x="174.71" y="252.60" textLength="33.00" lengthAdjust="spacingAndGlyphs" class="leg">Acquired</text>
<rect x="62.2" y="235.5" width="9" height="9.2" fill="#454e63"/>
<rect x="62.2" y="244.7" width="9" height="9.2" fill="#8a92b7"/>
<rect x="62.2" y="253.9" width="9" height="9.2" fill="#69a7de"/>
<rect x="162" y="235.2" width="9.2" height="9.4" fill="#de8c1c"/>
<rect x="162" y="244.6" width="9.2" height="9.4" fill="#a50a2e"/>
<rect x="0" y="0" width="520" height="1.1" fill="#000"/>
<rect x="0" y="0" width="1.2" height="271" fill="#000"/>
<rect x="518.85" y="0" width="1.15" height="271" fill="#000"/>
<rect x="0" y="269.75" width="520" height="1.25" fill="#000"/>
</svg>
</body></html>
